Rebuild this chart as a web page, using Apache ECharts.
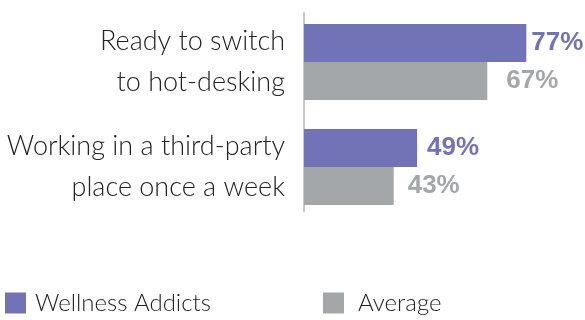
<!DOCTYPE html>
<html><head><meta charset="utf-8">
<script src="https://cdn.jsdelivr.net/npm/echarts@6/dist/echarts.min.js"></script>
<style>html,body{margin:0;padding:0;background:#fff}#c{width:585px;height:320px}</style>
</head><body><div id="c"></div>
<script>
const categories = ["Ready to switch\nto hot-desking", "Working in a third-party\nplace once a week"];
const seriesNames = ["Wellness Addicts", "Average"];
const wellnessValues = [77, 49];
const averageValues = [67, 43];

const purple = '#7173B6', gray = '#A4A7A9';
const wellnessLabelGap = [5, 10];
const averageLabelGap = [19, 14];
const withGaps = (vals, gaps) => vals.map((v, i) => ({value: v, label: {distance: gaps[i]}}));

const chart = echarts.init(document.getElementById('c'), null, {renderer: 'canvas'});
chart.setOption({
  animation: false,
  grid: [
    {left: 304, right: 47, top: 9.5, height: 210, containLabel: false},
    {left: 304, right: 47, top: 12.5, height: 199, containLabel: false}
  ],
  xAxis: [
    {type: 'value', min: 20, max: 80, show: false, gridIndex: 0},
    {type: 'value', min: 20, max: 80, show: false, gridIndex: 1}
  ],
  yAxis: [
    {
      type: 'category', data: categories, inverse: true, gridIndex: 0,
      axisLine: {show: false},
      axisTick: {show: false},
      axisLabel: {
        fontFamily: 'Lato', fontWeight: 300, fontSize: 27, color: '#222',
        lineHeight: 41, align: 'right', margin: 19
      }
    },
    {
      type: 'category', data: categories, inverse: true, gridIndex: 1,
      axisLine: {show: true, lineStyle: {color: '#b5b5b5', width: 1.5}},
      axisTick: {show: false}, axisLabel: {show: false}
    }
  ],
  legend: [
    {data: [seriesNames[0]], left: 0, top: 286, itemWidth: 21, itemHeight: 21, itemGap: 10,
     icon: 'rect', textStyle: {fontFamily: 'Lato', fontWeight: 300, fontSize: 24, color: '#222', padding: [0, 0, 0, 4]}},
    {data: [seriesNames[1]], left: 318, top: 286, itemWidth: 21, itemHeight: 21, itemGap: 10,
     icon: 'rect', textStyle: {fontFamily: 'Lato', fontWeight: 300, fontSize: 24, color: '#222', padding: [0, 0, 0, 9]}}
  ],
  series: [
    {name: seriesNames[0], type: 'bar', data: withGaps(wellnessValues, wellnessLabelGap), barWidth: 38, barGap: '0%',
     xAxisIndex: 0, yAxisIndex: 0,
     itemStyle: {color: purple},
     label: {show: true, position: 'right', formatter: '{c}%',
       fontFamily: 'Liberation Sans', fontWeight: 'bold', fontSize: 26, color: purple}},
    {name: seriesNames[1], type: 'bar', data: withGaps(averageValues, averageLabelGap), barWidth: 38, barGap: '0%',
     xAxisIndex: 0, yAxisIndex: 0,
     itemStyle: {color: gray},
     label: {show: true, position: 'right', formatter: '{c}%',
       fontFamily: 'Liberation Sans', fontWeight: 'bold', fontSize: 26, color: gray}}
  ]
});
</script></body></html>
